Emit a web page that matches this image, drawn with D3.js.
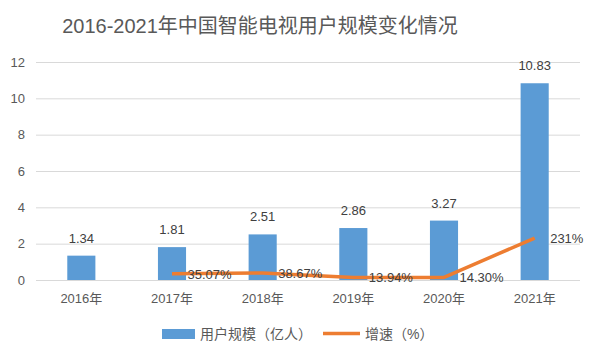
<!DOCTYPE html>
<html><head><meta charset="utf-8">
<script src="https://cdn.jsdelivr.net/npm/d3@7"></script>
<style>
html,body{margin:0;padding:0;background:#fff;}
text{font-family:"Liberation Sans","Noto Sans CJK SC",sans-serif;}
</style></head>
<body>
<svg id="c" width="598" height="358"></svg>
<script>
const years = ["2016年","2017年","2018年","2019年","2020年","2021年"];
const users = [1.34, 1.81, 2.51, 2.86, 3.27, 10.83];
const growth = [null, 35.07, 38.67, 13.94, 14.30, 231];
const growthLabels = ["", "35.07%", "38.67%", "13.94%", "14.30%", "231%"];
const yTicks = [0, 2, 4, 6, 8, 10, 12];
const title = "2016-2021年中国智能电视用户规模变化情况";
const legendNames = ["用户规模（亿人）", "增速（%）"];

const blue = "#5B9BD5", orange = "#ED7D31", txt = "#595959", lab = "#404040";
const svg = d3.select("#c");
const L = 36, R = 580, T = 62, B = 280;

const x = d3.scaleBand().domain(years).range([L, R]).paddingInner(0.69).paddingOuter(0.345);
const y = d3.scaleLinear().domain([0, 12]).range([B, T]);

svg.append("text").attr("x", 260).attr("y", 33).attr("text-anchor", "middle")
  .attr("font-size", 20).attr("fill", txt).text(title);

// grid
const yAxis = d3.axisLeft(y).tickValues(yTicks).tickSize(-(R - L)).tickFormat(d3.format("d"));
const ga = svg.append("g").attr("transform", `translate(${L},0)`).call(yAxis);
ga.select(".domain").remove();
ga.selectAll(".tick line").attr("stroke", "#D9D9D9").attr("stroke-width", 1);
ga.selectAll(".tick text").attr("x", -11).attr("font-size", 13).attr("fill", txt)
  .attr("font-family", "Liberation Sans, sans-serif");

// x labels
const xAxis = d3.axisBottom(x).tickSize(0);
const gx = svg.append("g").attr("transform", `translate(0,${B})`).call(xAxis);
gx.select(".domain").remove();
gx.selectAll(".tick text").attr("dy", 0).attr("y", 23).attr("font-size", 13).attr("fill", txt);

// bars
svg.append("g").selectAll("rect").data(users).join("rect")
  .attr("x", (d, i) => x(years[i])).attr("width", x.bandwidth())
  .attr("y", d => y(d)).attr("height", d => B - y(d)).attr("fill", blue);

svg.append("g").selectAll("text").data(users).join("text")
  .attr("x", (d, i) => x(years[i]) + x.bandwidth() / 2).attr("y", d => y(d) - 13)
  .attr("text-anchor", "middle").attr("font-size", 13).attr("fill", lab)
  .text(d => d3.format(".2f")(d));

// line
const pts = growth.map((g, i) => ({g, i})).filter(p => p.g !== null);
const line = d3.line().x(p => x(years[p.i]) + x.bandwidth() / 2).y(p => y(p.g / 100));
svg.append("path").datum(pts).attr("d", line).attr("fill", "none")
  .attr("stroke", orange).attr("stroke-width", 3.5).attr("stroke-linejoin", "round");

svg.append("g").selectAll("text").data(pts).join("text")
  .attr("x", p => x(years[p.i]) + x.bandwidth() / 2 + 15.5).attr("y", p => y(p.g / 100) + 5)
  .attr("font-size", 13).attr("fill", lab).text(p => growthLabels[p.i]);

// legend
const lg = svg.append("g");
lg.append("rect").attr("x", 162).attr("y", 329).attr("width", 33).attr("height", 10).attr("fill", blue);
lg.append("text").attr("x", 200).attr("y", 339).attr("font-size", 14).attr("fill", txt).text(legendNames[0]);
lg.append("line").attr("x1", 323).attr("x2", 360).attr("y1", 333.5).attr("y2", 333.5)
  .attr("stroke", orange).attr("stroke-width", 3.5);
lg.append("text").attr("x", 365).attr("y", 339).attr("font-size", 14).attr("fill", txt).text(legendNames[1]);
</script>
</body></html>
